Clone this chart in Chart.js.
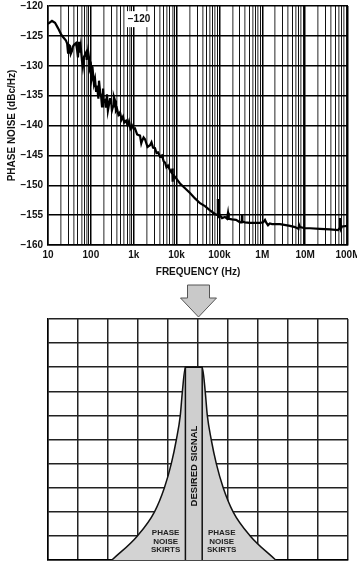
<!DOCTYPE html>
<html><head><meta charset="utf-8">
<script src="https://cdn.jsdelivr.net/npm/chart.js@4/dist/chart.umd.min.js"></script>
<style>
html,body{margin:0;padding:0;background:#fff;width:357px;height:565px;overflow:hidden;}
canvas{position:absolute;left:0;}
#top{top:0;}
#bot{top:280px;}
</style></head><body>
<canvas id="top" width="357" height="280"></canvas>
<canvas id="bot" width="357" height="285"></canvas>
<script>
// ---------- Top chart data ----------
const freqHz = [10,12.4,14.6,17.1,20.1,22.4,26.3,28,29.3,30.5,32.6,34,36.3,38,40.4,45,47.5,50,52.9,55.8,58,62.1,65,69.2,77.1,80,85.8,90.6,95,100.8,106,112,118,125,132,139,150,155,165,173,182,192,200,214,225,238,250,265,280,295,310,329,345,366,385,407,440,479,520,562,600,661,720,776,840,912,1000,1072,1200,1403,1500,1561,1700,1834,2100,2399,2600,2818,3139,3400,3690,4100,4571,5000,5370,5800,6310,7031,7816,7950,8100,8300,9700,12020,15740,20560,26920,35220,46050,60260,78890,90000,92000,93500,103000,115000,134900,150000,158500,165000,196300,243800,302000,330000,336500,343000,395300,516400,676100,885100,1.05e6,1.157e6,1.25e6,1.36e6,1.5e6,1.69e6,2.59e6,4.43e6,5.8e6,7.0e6,7.2e6,7.59e6,9.93e6,1.3e7,2.22e7,3.8e7,5.85e7,6.3e7,6.5e7,6.8e7,7.24e7,1e8];
const phaseNoiseDbc = [-123,-122.5,-122.8,-123.7,-124.7,-125.2,-125.8,-126.3,-127.8,-126.5,-126.7,-128,-127.5,-126.8,-126.5,-126.2,-127.2,-128.6,-126,-127.8,-126.8,-129.2,-130.2,-128.5,-127.8,-129,-127.5,-128.7,-130.5,-130,-132,-131.2,-133,-132.2,-134.2,-133.3,-135.5,-132.5,-134.5,-135,-136.8,-133.8,-136,-135.8,-137,-134.8,-137.5,-136.5,-135.6,-135.5,-137.5,-136.8,-135.2,-135.8,-137.5,-137.2,-138.2,-137.8,-139,-138.5,-139.5,-139.2,-140,-139.3,-140.5,-140,-140.6,-140.5,-141.5,-141.7,-143,-142.6,-142,-142.3,-143.6,-143.3,-142.8,-143.7,-143.8,-144.6,-144.5,-145.2,-145,-146,-146.2,-147,-146.7,-147.5,-148,-147.2,-149.4,-148.2,-148.8,-149.7,-150.5,-151.3,-152.2,-153,-153.5,-154.2,-154.8,-155,-152.3,-155.3,-155,-155.5,-155.3,-155.6,-154.6,-155.6,-155.7,-155.8,-156.2,-156.2,-155,-156.1,-156.2,-156.3,-156.3,-156.3,-156.2,-155.8,-156.3,-156.7,-156.4,-156.5,-156.5,-156.8,-157,-157.3,-156.6,-157,-157.2,-157.2,-157.3,-157.4,-157.5,-157.2,-155.5,-157.3,-156.9,-156.8];
const xTickValues = [10,100,1e3,1e4,1e5,1e6,1e7,1e8];
const xTickLabels = ['10','100','1k','10k','100k','1M','10M','100M'];
const yTickValues = [-160,-155,-150,-145,-140,-135,-130,-125,-120];
const yTickLabels = ['\u2212160','\u2212155','\u2212150','\u2212145','\u2212140','\u2212135','\u2212130','\u2212125','\u2212120'];
const xTitle = 'FREQUENCY (Hz)';
const yTitle = 'PHASE NOISE (dBc/Hz)';
const noteText = '\u2212120';
const noteFreq = 1330;
const noteDb = -122.2;

// ---------- Bottom diagram data ----------
const signalLeft = -0.42;
const signalRight = 0.14;
const signalTop = 8;
const skirtLevel = [0, 1, 2, 3, 4, 5, 6, 7, 8];
const skirtOffset = [2.45, 1.6, 1.03, 0.7, 0.47, 0.3, 0.17, 0.1, 0];
const signalLabel = 'DESIRED SIGNAL';
const skirtLabel = ['PHASE', 'NOISE', 'SKIRTS'];

const FONT = "'Liberation Sans', Arial, Helvetica, sans-serif";

const noteplugin = {
  id: 'note',
  afterDraw(chart) {
    const {ctx, scales} = chart;
    const x = scales.x.getPixelForValue(noteFreq);
    const y = scales.y.getPixelForValue(noteDb);
    ctx.save();
    ctx.fillStyle = '#fff';
    ctx.fillRect(x - 13, y - 8, 26, 16);
    ctx.fillStyle = '#111';
    ctx.font = 'bold 10px ' + FONT;
    ctx.textAlign = 'center';
    ctx.textBaseline = 'middle';
    ctx.fillText(noteText, x, y);
    ctx.restore();
  }
};

new Chart(document.getElementById('top'), {
  type: 'line',
  data: {
    datasets: [{
      data: freqHz.map((f, i) => ({x: f, y: phaseNoiseDbc[i]})),
      borderColor: '#000',
      borderWidth: 2.2,
      pointRadius: 0,
      tension: 0,
      fill: false
    }]
  },
  options: {
    responsive: false,
    animation: false,
    layout: {padding: {top: 6, right: 9, left: 0, bottom: 0}},
    plugins: {legend: {display: false}, tooltip: {enabled: false}},
    scales: {
      x: {
        type: 'logarithmic', min: 10, max: 1e8,
        afterBuildTicks: s => {
          const t = [];
          for (let e = 1; e < 8; e++) for (let m = 1; m < 10; m++) t.push({value: m * Math.pow(10, e)});
          t.push({value: 1e8});
          s.ticks = t;
        },
        afterFit: s => { s.height = 35; s.paddingLeft = 0; s.paddingRight = 0; },
        ticks: {
          autoSkip: false, maxRotation: 0, padding: 4, color: '#111',
          font: {family: FONT, size: 10, weight: 'bold'},
          callback: v => { const i = xTickValues.findIndex(t => Math.abs(t - v) < v * 1e-6); return i >= 0 ? xTickLabels[i] : ''; }
        },
        grid: {
          drawTicks: false,
          color: c => {
            const v = c.tick.value; const m = Math.round(v / Math.pow(10, Math.floor(Math.log10(v) + 1e-9)));
            return m === 1 ? '#000' : (m % 2 === 0 ? '#777' : '#111');
          },
          lineWidth: c => {
            const v = c.tick.value; const m = Math.round(v / Math.pow(10, Math.floor(Math.log10(v) + 1e-9)));
            return m === 1 ? 1.5 : (m % 2 === 0 ? 1.6 : 1);
          }
        },
        border: {color: '#000', width: 1.5},
        title: {display: true, text: xTitle, color: '#111', font: {family: FONT, size: 10, weight: 'bold'}, padding: {top: 0, bottom: 2}}
      },
      y: {
        min: -160, max: -120,
        afterBuildTicks: s => { s.ticks = yTickValues.map(v => ({value: v})); },
        afterFit: s => { s.width = 48; s.paddingTop = 0; s.paddingBottom = 0; },
        ticks: {
          padding: 5, color: '#111',
          font: {family: FONT, size: 10, weight: 'bold'},
          callback: v => { const i = yTickValues.indexOf(v); return i >= 0 ? yTickLabels[i] : ''; }
        },
        grid: {drawTicks: false, color: '#000', lineWidth: 1.5},
        border: {color: '#000', width: 1.5},
        title: {display: true, text: yTitle, color: '#111', font: {family: FONT, size: 10, weight: 'bold'}, padding: {top: 6, bottom: 0}}
      }
    }
  },
  plugins: [noteplugin]
});

// ---------- Bottom diagram ----------
const skirtPoints = [];
for (let i = 0; i < skirtLevel.length; i++) skirtPoints.push({x: signalLeft - skirtOffset[i], y: skirtLevel[i]});
for (let i = skirtLevel.length - 1; i >= 0; i--) skirtPoints.push({x: signalRight + skirtOffset[i], y: skirtLevel[i]});
const signalPoints = [
  {x: signalLeft, y: 0}, {x: signalLeft, y: signalTop}, {x: signalRight, y: signalTop}, {x: signalRight, y: 0}
];

const diagPlugin = {
  id: 'diag',
  afterDatasetsDraw(chart) {
    const {ctx, scales} = chart;
    const xs = scales.x, ys = scales.y;
    ctx.save();
    const cx = (xs.getPixelForValue(signalLeft) + xs.getPixelForValue(signalRight)) / 2;
    const cy = ys.getPixelForValue(3.9);
    ctx.translate(cx + 0.5, cy);
    ctx.rotate(-Math.PI / 2);
    ctx.fillStyle = '#111';
    ctx.font = 'bold 9.5px ' + FONT;
    ctx.textAlign = 'center';
    ctx.textBaseline = 'middle';
    ctx.fillText(signalLabel, 0, 0);
    ctx.restore();
    ctx.save();
    ctx.fillStyle = '#222';
    ctx.font = 'bold 8px ' + FONT;
    ctx.textAlign = 'center';
    ctx.textBaseline = 'middle';
    const lx = xs.getPixelForValue(-1.08), rx = xs.getPixelForValue(0.79);
    const y0 = ys.getPixelForValue(1.12);
    skirtLabel.forEach((t, i) => {
      ctx.fillText(t, lx, y0 + i * 8.3);
      ctx.fillText(t, rx, y0 + i * 8.3);
    });
    ctx.restore();
  },
  afterDraw(chart) {
    const {ctx, scales, chartArea} = chart;
    const cx = scales.x.getPixelForValue(0) + 0.5;
    const tip = chartArea.top - 2;
    ctx.save();
    ctx.beginPath();
    ctx.moveTo(cx - 11, 5);
    ctx.lineTo(cx + 11, 5);
    ctx.lineTo(cx + 11, 18);
    ctx.lineTo(cx + 18, 18);
    ctx.lineTo(cx, tip);
    ctx.lineTo(cx - 18, 18);
    ctx.lineTo(cx - 11, 18);
    ctx.closePath();
    ctx.fillStyle = '#c9c9c9';
    ctx.fill();
    ctx.strokeStyle = '#555';
    ctx.lineWidth = 1;
    ctx.stroke();
    ctx.restore();
  }
};

new Chart(document.getElementById('bot'), {
  type: 'line',
  data: {
    datasets: [
      {data: signalPoints, borderColor: '#111', borderWidth: 1.5, backgroundColor: '#cfcfcf', fill: 'origin', pointRadius: 0, tension: 0},
      {data: skirtPoints, borderColor: '#111', borderWidth: 1.5, backgroundColor: '#d3d3d3', fill: 'origin', pointRadius: 0, cubicInterpolationMode: 'monotone'}
    ]
  },
  options: {
    responsive: false,
    animation: false,
    layout: {padding: {top: 39, left: 48, right: 9, bottom: 5}},
    plugins: {legend: {display: false}, tooltip: {enabled: false}},
    scales: {
      x: {
        type: 'linear', min: -5, max: 5,
        ticks: {display: false, stepSize: 1},
        afterFit: s => { s.height = 0; s.paddingLeft = 0; s.paddingRight = 0; },
        grid: {drawTicks: false, color: '#222', lineWidth: 1.5},
        border: {color: '#000', width: 1.5}
      },
      y: {
        type: 'linear', min: 0, max: 10,
        ticks: {display: false, stepSize: 1},
        afterFit: s => { s.width = 0; s.paddingTop = 0; s.paddingBottom = 0; },
        grid: {drawTicks: false, color: '#222', lineWidth: 1.5},
        border: {color: '#000', width: 1.5}
      }
    }
  },
  plugins: [diagPlugin]
});
</script>
</body></html>
